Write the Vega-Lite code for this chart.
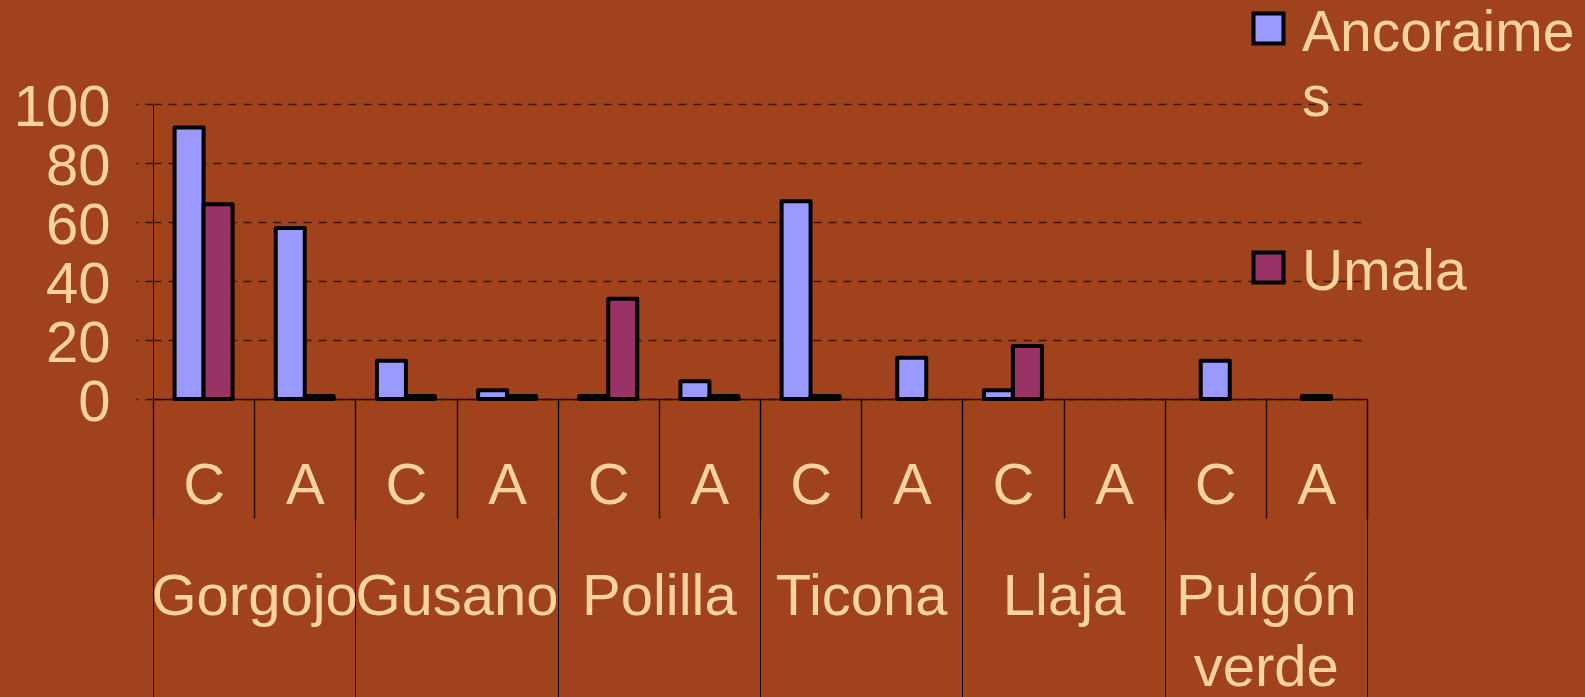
{
  "$schema": "https://vega.github.io/schema/vega-lite/v6.json",
  "autosize": {"type": "none"},
  "width": 1214,
  "height": 295,
  "padding": {"left": 153, "top": 104, "right": 218, "bottom": 298},
  "background": "#a0431c",
  "config": {
    "view": {"stroke": null},
    "font": "Liberation Sans",
    "style": {"guide-label": {"lineHeight": 65}}
  },
  "data": {
    "values": [
      {"group": "Gorgojo", "cat": "Gorgojo C", "series": "Ancoraimes", "value": 92},
      {"group": "Gorgojo", "cat": "Gorgojo C", "series": "Umala", "value": 66},
      {"group": "Gorgojo", "cat": "Gorgojo A", "series": "Ancoraimes", "value": 58},
      {"group": "Gorgojo", "cat": "Gorgojo A", "series": "Umala", "value": 1},
      {"group": "Gusano", "cat": "Gusano C", "series": "Ancoraimes", "value": 13},
      {"group": "Gusano", "cat": "Gusano C", "series": "Umala", "value": 1},
      {"group": "Gusano", "cat": "Gusano A", "series": "Ancoraimes", "value": 3},
      {"group": "Gusano", "cat": "Gusano A", "series": "Umala", "value": 1},
      {"group": "Polilla", "cat": "Polilla C", "series": "Ancoraimes", "value": 1},
      {"group": "Polilla", "cat": "Polilla C", "series": "Umala", "value": 34},
      {"group": "Polilla", "cat": "Polilla A", "series": "Ancoraimes", "value": 6},
      {"group": "Polilla", "cat": "Polilla A", "series": "Umala", "value": 1},
      {"group": "Ticona", "cat": "Ticona C", "series": "Ancoraimes", "value": 67},
      {"group": "Ticona", "cat": "Ticona C", "series": "Umala", "value": 1},
      {"group": "Ticona", "cat": "Ticona A", "series": "Ancoraimes", "value": 14},
      {"group": "Llaja", "cat": "Llaja C", "series": "Ancoraimes", "value": 3},
      {"group": "Llaja", "cat": "Llaja C", "series": "Umala", "value": 18},
      {"group": "Pulgón verde", "cat": "Pulgón verde C", "series": "Ancoraimes", "value": 13},
      {"group": "Pulgón verde", "cat": "Pulgón verde A", "series": "Umala", "value": 1}
    ]
  },
  "transform": [
    {"joinaggregate": [{"op": "count", "as": "n"}], "groupby": ["cat"]}
  ],
  "resolve": {"scale": {"x": "independent"}},
  "layer": [
    {
      "encoding": {
        "x": {
          "field": "cat",
          "type": "nominal",
          "scale": {
            "domain": ["Gorgojo C", "Gorgojo A", "Gusano C", "Gusano A", "Polilla C", "Polilla A", "Ticona C", "Ticona A", "Llaja C", "Llaja A", "Pulgón verde C", "Pulgón verde A"],
            "paddingInner": 0,
            "paddingOuter": 0
          },
          "axis": {
            "orient": "bottom",
            "title": null,
            "labelAngle": 0,
            "labelExpr": "slice(datum.label, -1)",
            "labelFont": "Liberation Sans",
            "labelFontSize": 58,
            "labelColor": "#ffd29e",
            "labelBaseline": "alphabetic",
            "labelPadding": -15,
            "labelOverlap": false,
            "labelBound": false,
            "labelFlush": false,
            "labelLimit": 500,
            "tickBand": "extent",
            "tickSize": 119,
            "tickColor": "#2a0e00",
            "tickWidth": 1.5,
            "domainColor": "#2a0e00",
            "domainWidth": 1.5,
            "grid": false
          }
        },
        "y": {
          "field": "value",
          "type": "quantitative",
          "scale": {"domain": [0, 100], "nice": false, "zero": true},
          "axis": {
            "title": null,
            "values": [0, 20, 40, 60, 80, 100],
            "labelFont": "Liberation Sans",
            "labelFontSize": 58,
            "labelColor": "#ffd29e",
            "labelPadding": 26,
            "labelOffset": 4,
            "tickSize": 17,
            "tickColor": "#3a1505",
            "tickDash": [8, 7],
            "tickWidth": 1.3,
            "grid": true,
            "gridColor": "#3a1505",
            "gridDash": [8, 7],
            "gridWidth": 1.3,
            "domainColor": "#000000",
            "domainWidth": 1
          }
        },
        "color": {
          "field": "series",
          "type": "nominal",
          "scale": {"domain": ["Ancoraimes", "Umala"], "range": ["#9999ff", "#993366"]},
          "legend": {
            "title": null,
            "orient": "none",
            "legendX": 1087,
            "legendY": -82,
            "padding": 0,
            "symbolType": "M-1,-2.467H1V-0.467H-1Z",
            "symbolSize": 900,
            "symbolStrokeColor": "#000000",
            "symbolStrokeWidth": 4,
            "symbolOpacity": 1,
            "labelFont": "Liberation Sans",
            "labelFontSize": 57,
            "labelColor": "#ffd29e",
            "labelOffset": 5,
            "labelLimit": 500,
            "labelBaseline": "alphabetic",
            "rowPadding": 116,
            "labelExpr": "datum.label == 'Ancoraimes' ? ['Ancoraime', 's'] : datum.label"
          }
        }
      },
      "layer": [
        {
          "transform": [{"filter": "datum.n == 2"}],
          "mark": {"type": "bar", "stroke": "#000000", "strokeWidth": 4, "strokeJoin": "round", "opacity": 1},
          "encoding": {
            "xOffset": {
              "field": "series",
              "type": "nominal",
              "scale": {"domain": ["Ancoraimes", "Umala"], "paddingInner": 0, "paddingOuter": 0.745}
            }
          }
        },
        {
          "transform": [{"filter": "datum.n == 1"}],
          "mark": {"type": "bar", "stroke": "#000000", "strokeWidth": 4, "strokeJoin": "round", "opacity": 1, "width": 29}
        }
      ]
    },
    {
      "mark": {"type": "rule", "strokeOpacity": 0},
      "encoding": {
        "x": {
          "field": "group",
          "type": "nominal",
          "scale": {
            "domain": ["Gorgojo", "Gusano", "Polilla", "Ticona", "Llaja", "Pulgón verde"],
            "paddingInner": 0,
            "paddingOuter": 0
          },
          "axis": {
            "orient": "bottom",
            "title": null,
            "labelAngle": 0,
            "labelExpr": "datum.label == 'Pulgón verde' ? ['Pulgón', 'verde'] : datum.label",
            "labelFont": "Liberation Sans",
            "labelFontSize": 58,
            "labelColor": "#ffd29e",
            "labelBaseline": "alphabetic",
            "labelLineHeight": 71,
            "labelPadding": -85,
            "labelOverlap": false,
            "labelBound": false,
            "labelFlush": false,
            "labelLimit": 500,
            "tickBand": "extent",
            "tickSize": 300,
            "tickColor": "#000000",
            "tickWidth": 1,
            "domain": false,
            "grid": false
          }
        }
      }
    }
  ]
}
